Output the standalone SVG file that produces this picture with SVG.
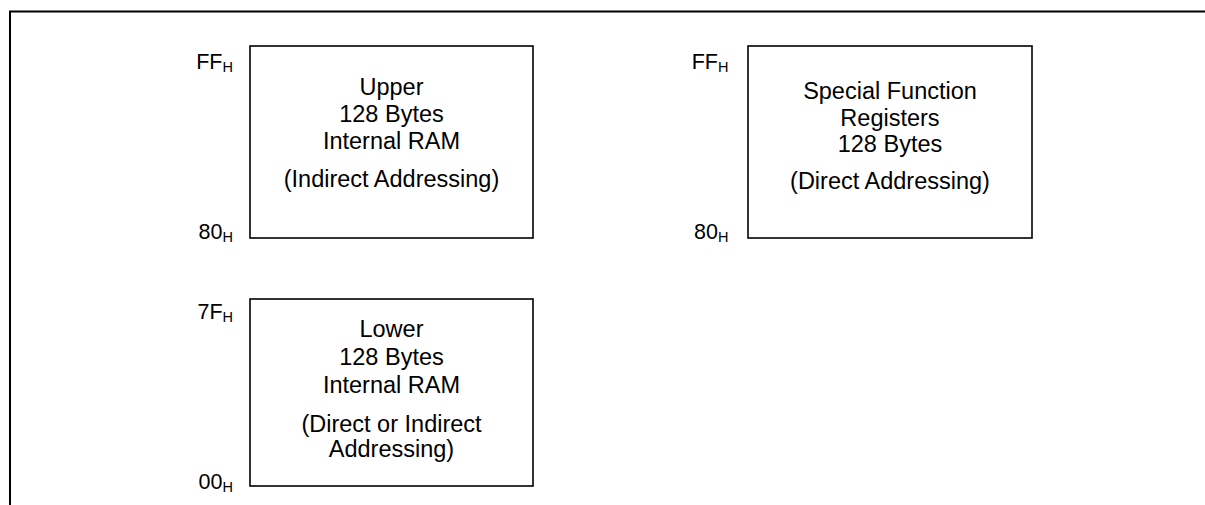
<svg xmlns="http://www.w3.org/2000/svg" width="1205" height="505" viewBox="0 0 1205 505">
<style>
.box{fill:#fff;stroke:#000;stroke-width:1.6}
.frame{fill:none;stroke:#000;stroke-width:2}
.t{font-family:"Liberation Sans",Arial,sans-serif;font-size:23.5px;fill:#000;text-anchor:middle}
.lbl{font-family:"Liberation Sans",Arial,sans-serif;font-size:21.5px;fill:#000;text-anchor:end}
.sub{font-size:14.5px}
</style>
<rect width="1205" height="505" fill="#fff"/>
<path class="frame" d="M10,505 V11.5 H1205"/>
<g id="upper-ram">
<rect class="box" x="250" y="46" width="283" height="192"/>
<text class="t" x="391.5" y="95">Upper</text>
<text class="t" x="391.5" y="122">128 Bytes</text>
<text class="t" x="391.5" y="148.5">Internal RAM</text>
<text class="t" x="391.5" y="186.5">(Indirect Addressing)</text>
<text class="lbl" x="233" y="69">FF<tspan class="sub" dy="2.5">H</tspan></text>
<text class="lbl" x="233" y="239">80<tspan class="sub" dy="2.5">H</tspan></text>
</g>
<g id="sfr">
<rect class="box" x="748" y="46" width="284" height="192"/>
<text class="t" x="890" y="98.5">Special Function</text>
<text class="t" x="890" y="126">Registers</text>
<text class="t" x="890" y="151.5">128 Bytes</text>
<text class="t" x="890" y="189">(Direct Addressing)</text>
<text class="lbl" x="728.5" y="69">FF<tspan class="sub" dy="2.5">H</tspan></text>
<text class="lbl" x="728.5" y="239">80<tspan class="sub" dy="2.5">H</tspan></text>
</g>
<g id="lower-ram">
<rect class="box" x="250" y="299" width="283" height="187"/>
<text class="t" x="391.5" y="336.5">Lower</text>
<text class="t" x="391.5" y="365">128 Bytes</text>
<text class="t" x="391.5" y="393">Internal RAM</text>
<text class="t" x="391.5" y="431.5">(Direct or Indirect</text>
<text class="t" x="391.5" y="456.5">Addressing)</text>
<text class="lbl" x="233" y="319">7F<tspan class="sub" dy="2.5">H</tspan></text>
<text class="lbl" x="233" y="489">00<tspan class="sub" dy="2.5">H</tspan></text>
</g>
<g id="connectors"></g>
</svg>
